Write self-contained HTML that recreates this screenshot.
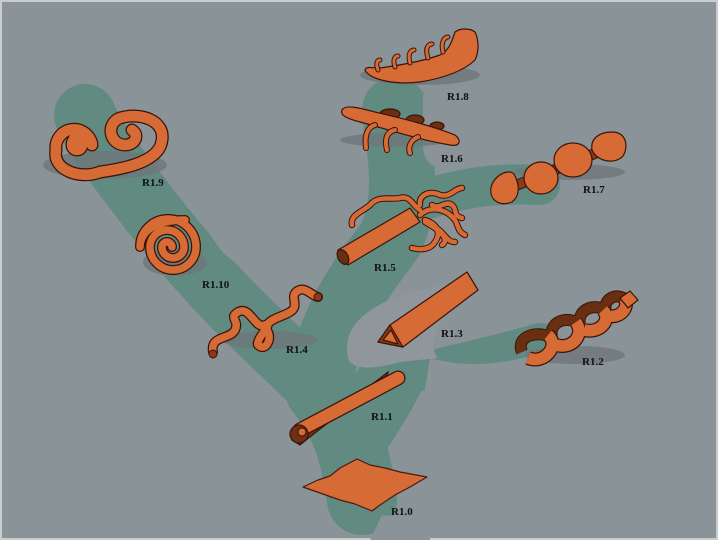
<!DOCTYPE html>
<html><head><style>
html,body{margin:0;padding:0;background:#8a9398;}
svg{display:block}
text{font-family:"Liberation Serif",serif;font-weight:bold;font-size:11px;fill:#111}
</style></head><body>
<svg width="718" height="540" viewBox="0 0 718 540" xmlns="http://www.w3.org/2000/svg">
<rect x="0" y="0" width="718" height="540" fill="#c9cdd0"/>
<rect x="2" y="2" width="714" height="536" fill="#8a9398"/>
<!-- green tree -->
<g fill="none" stroke="#618a80" stroke-linecap="round" stroke-linejoin="round">
  <path d="M362,500 C355,450 345,420 320,390" stroke-width="70"/>
  <path d="M320,390 C270,340 220,300 150,210 C120,170 95,140 85,115" stroke-width="62"/>
  <path d="M320,380 C330,320 360,280 390,240 C410,200 400,150 395,110" stroke-width="66"/>
  <path d="M410,205 C450,190 490,182 540,185" stroke-width="40"/>
  <path d="M370,385 C420,370 480,360 540,342" stroke-width="38"/>
  <path d="M360,430 C380,400 390,380 400,360" stroke-width="66"/>
</g>
<!-- gray holes -->
<path d="M245,265 C290,270 330,230 352,180 L355,95 L220,95 L195,200 C210,240 225,262 245,265Z" fill="#8a9398"/>
<path d="M462,162 C440,175 425,165 423,150 L423,95 L470,95Z" fill="#8a9398"/>
<path d="M348,358 C340,320 380,300 420,290 L470,280 L450,310 C432,330 430,350 438,358 L400,362 C372,370 352,370 348,358Z" fill="#8f979c"/>
<path d="M430,358 C480,372 520,358 560,350 L560,400 L420,420Z" fill="#8a9398"/>
<path d="M382,515 C400,520 410,500 415,470 L430,440 L430,540 L370,540Z" fill="#8a9398"/>

<!-- shadows -->
<g fill="#6e777b" opacity="0.8">
<ellipse cx="420" cy="75" rx="60" ry="10"/>
<ellipse cx="395" cy="140" rx="55" ry="7"/>
<ellipse cx="570" cy="172" rx="55" ry="8"/>
<ellipse cx="105" cy="165" rx="62" ry="14"/>
<ellipse cx="175" cy="262" rx="32" ry="14"/>
<ellipse cx="270" cy="340" rx="48" ry="9"/>
<ellipse cx="575" cy="355" rx="50" ry="9"/>
</g>

<!-- R1.0 -->
<path d="M303,487 L318,480 L330,476 L340,468 L357,459 L370,465 L385,468 L400,472 L427,477 L410,487 L395,495 L380,505 L372,511 L355,504 L340,500 L320,493Z" fill="#d76b35" stroke="#4a1a10" stroke-width="1.2" stroke-linejoin="round"/>

<!-- R1.1 -->
<path d="M292,440 C330,410 360,395 388,372 L385,383 C360,400 330,420 300,445Z" fill="#6e2f12" stroke="#3a140a" stroke-width="1.2"/>
<path d="M300,430 L398,378" stroke="#3a140a" stroke-width="15" stroke-linecap="round"/>
<path d="M300,430 L398,378" stroke="#d76b35" stroke-width="12.5" stroke-linecap="round"/>
<circle cx="299" cy="434" r="9" fill="#6e2f12" stroke="#3a140a" stroke-width="1.2"/>
<circle cx="302" cy="432" r="4" fill="#d76b35" stroke="#3a140a" stroke-width="1"/>

<!-- R1.2 helix -->
<g fill="none" stroke-linecap="butt">
 <g stroke="#3a140a" stroke-width="12">
  <path d="M522,352 C515,335 540,330 552,338"/>
  <path d="M552,338 C548,320 570,315 580,325"/>
  <path d="M580,325 C576,308 598,302 606,312"/>
  <path d="M606,312 C602,298 618,292 626,300"/>
 </g>
 <g stroke="#6a2e10" stroke-width="10">
  <path d="M522,352 C515,335 540,330 552,338"/>
  <path d="M552,338 C548,320 570,315 580,325"/>
  <path d="M580,325 C576,308 598,302 606,312"/>
  <path d="M606,312 C602,298 618,292 626,300"/>
 </g>
 <g stroke="#3a140a" stroke-width="14">
  <path d="M528,358 C545,365 560,345 548,335"/>
  <path d="M556,345 C572,350 585,335 576,322"/>
  <path d="M584,330 C600,334 612,320 603,310"/>
  <path d="M610,316 C622,318 630,305 624,298"/>
 </g>
 <g stroke="#d76b35" stroke-width="11.5">
  <path d="M528,358 C545,365 560,345 548,335"/>
  <path d="M556,345 C572,350 585,335 576,322"/>
  <path d="M584,330 C600,334 612,320 603,310"/>
  <path d="M610,316 C622,318 630,305 624,298"/>
 </g>
</g>
<path d="M620,298 L630,291 L638,300 L628,308Z" fill="#d76b35" stroke="#3a140a" stroke-width="1.2"/>

<!-- R1.3 -->
<g stroke="#3a140a" stroke-width="1.2" stroke-linejoin="round">
<path d="M378,342 L390,325 L467,272 L478,290 L403,347Z" fill="#d76b35"/>
<path d="M378,342 L390,325 L403,347Z" fill="#8a3a18"/>
<path d="M383,340 L391,330 L398,344Z" fill="#d76b35"/>
</g>

<!-- R1.4 -->
<g fill="none" stroke-linecap="round" stroke-linejoin="round">
<path d="M213,352 C210,335 230,340 235,330 C240,320 228,318 238,312 C250,305 255,330 265,325 C275,320 255,340 258,345 C265,352 272,340 268,332 C262,320 280,318 290,312 C300,306 290,298 296,292 C305,285 310,295 318,297" stroke="#3a140a" stroke-width="10"/>
<path d="M213,352 C210,335 230,340 235,330 C240,320 228,318 238,312 C250,305 255,330 265,325 C275,320 255,340 258,345 C265,352 272,340 268,332 C262,320 280,318 290,312 C300,306 290,298 296,292 C305,285 310,295 318,297" stroke="#d76b35" stroke-width="7.5"/>
</g>
<circle cx="213" cy="354" r="4" fill="#8a3a18" stroke="#3a140a"/>
<circle cx="318" cy="297" r="4" fill="#8a3a18" stroke="#3a140a"/>

<!-- R1.5 tentacles -->
<g fill="none" stroke-linecap="round" stroke-linejoin="round">
<g stroke="#3a140a" stroke-width="6.5">
<path d="M352,225 C350,215 362,212 370,205 C378,195 390,200 400,198 C410,195 412,205 420,210"/>
<path d="M420,205 C418,195 430,190 440,195 C450,198 455,188 462,188"/>
<path d="M420,215 C430,205 445,210 450,215 C460,222 455,230 465,235"/>
<path d="M425,220 C440,225 440,235 435,242 C430,250 420,250 412,248"/>
<path d="M425,222 C440,230 450,240 442,245"/>
<path d="M430,225 C445,230 445,242 455,242"/>
<path d="M432,205 C440,210 445,200 452,205 C458,210 452,215 462,218"/>
</g>
<g stroke="#d76b35" stroke-width="4.5">
<path d="M352,225 C350,215 362,212 370,205 C378,195 390,200 400,198 C410,195 412,205 420,210"/>
<path d="M420,205 C418,195 430,190 440,195 C450,198 455,188 462,188"/>
<path d="M420,215 C430,205 445,210 450,215 C460,222 455,230 465,235"/>
<path d="M425,220 C440,225 440,235 435,242 C430,250 420,250 412,248"/>
<path d="M425,222 C440,230 450,240 442,245"/>
<path d="M430,225 C445,230 445,242 455,242"/>
<path d="M432,205 C440,210 445,200 452,205 C458,210 452,215 462,218"/>
</g>
</g>
<g stroke="#3a140a" stroke-width="1.2" stroke-linejoin="round">
<path d="M338,250 L410,208 L420,222 L348,265Z" fill="#d76b35"/>
<ellipse cx="343" cy="257" rx="5" ry="8" transform="rotate(-30 343 257)" fill="#6a2e10"/>
</g>

<!-- R1.6 -->
<g stroke="#3a140a" stroke-width="1.2" stroke-linejoin="round">
<ellipse cx="390" cy="114" rx="10" ry="5" fill="#6a2e10"/>
<ellipse cx="415" cy="120" rx="9" ry="5" fill="#6a2e10"/>
<ellipse cx="437" cy="126" rx="7" ry="4" fill="#6a2e10"/>
<path d="M342,110 C345,104 360,108 375,112 C400,118 430,125 455,135 C462,140 460,147 450,145 C420,140 390,130 360,122 C345,118 340,115 342,110Z" fill="#d76b35"/>
</g>
<g fill="none" stroke-linecap="round">
<g stroke="#3a140a" stroke-width="6"><path d="M375,125 C365,128 365,140 366,148"/><path d="M395,130 C385,132 385,142 387,150"/><path d="M418,137 C410,140 408,148 410,153"/></g>
<g stroke="#d76b35" stroke-width="4"><path d="M375,125 C365,128 365,140 366,148"/><path d="M395,130 C385,132 385,142 387,150"/><path d="M418,137 C410,140 408,148 410,153"/></g>
</g>

<!-- R1.7 -->
<path d="M505,190 L608,148" stroke="#3a140a" stroke-width="11"/>
<path d="M505,190 L608,148" stroke="#8a3a18" stroke-width="9"/>
<g stroke="#3a140a" stroke-width="1.2" stroke-linejoin="round" fill="#d76b35">
<path d="M491,188 C493,176 508,168 514,174 C520,185 520,196 512,202 C500,207 489,200 491,188Z"/>
<ellipse cx="541" cy="178" rx="17" ry="16"/>
<ellipse cx="573" cy="160" rx="19" ry="17"/>
<path d="M592,150 C590,138 600,132 612,132 C626,132 629,146 623,156 C616,164 598,163 592,150Z"/>
</g>

<!-- R1.8 -->
<g stroke="#3a140a" stroke-width="1.2" stroke-linejoin="round">
<path d="M365,70 C370,80 395,85 420,82 C445,78 465,70 475,60 C480,50 478,38 475,32 C470,28 460,28 455,32 C452,40 450,50 440,55 C420,62 400,65 380,68 C372,68 366,66 365,70Z" fill="#d76b35"/>
</g>
<g fill="none" stroke-linecap="round">
<g stroke="#3a140a" stroke-width="5"><path d="M378,70 C375,62 378,60 380,60"/><path d="M395,67 C392,58 396,56 398,56"/><path d="M410,63 C407,52 412,50 414,50"/><path d="M428,58 C424,46 430,44 432,44"/><path d="M443,52 C440,40 446,37 448,37"/></g>
<g stroke="#d76b35" stroke-width="3"><path d="M378,70 C375,62 378,60 380,60"/><path d="M395,67 C392,58 396,56 398,56"/><path d="M410,63 C407,52 412,50 414,50"/><path d="M428,58 C424,46 430,44 432,44"/><path d="M443,52 C440,40 446,37 448,37"/></g>
</g>

<!-- R1.9 -->
<g fill="none" stroke-linecap="round" stroke-linejoin="round">
<path d="M82,145 A5,5 0 0 1 72,145 A10,10 0 0 1 92,145 A18,18 0 0 0 56,150 C52,170 80,180 100,172 C130,168 160,160 162,140 C165,120 140,112 120,118 C105,124 110,145 125,145 C135,145 140,135 132,130" stroke="#3a140a" stroke-width="13"/>
<path d="M82,145 A5,5 0 0 1 72,145 A10,10 0 0 1 92,145 A18,18 0 0 0 56,150 C52,170 80,180 100,172 C130,168 160,160 162,140 C165,120 140,112 120,118 C105,124 110,145 125,145 C135,145 140,135 132,130" stroke="#d76b35" stroke-width="10.5"/>
</g>

<!-- R1.10 -->
<g fill="none" stroke-linecap="round" stroke-linejoin="round">
<path d="M172,247 A5,5 0 0 0 162,247 A11,11 0 0 0 184,247 A17,17 0 0 0 150,247 A23,23 0 0 0 196,247 A28,28 0 0 0 140,247 C140,232 155,220 185,220" stroke="#3a140a" stroke-width="10"/>
<path d="M172,247 A5,5 0 0 0 162,247 A11,11 0 0 0 184,247 A17,17 0 0 0 150,247 A23,23 0 0 0 196,247 A28,28 0 0 0 140,247 C140,232 155,220 185,220" stroke="#d76b35" stroke-width="7.5"/>
</g>

<!-- labels -->
<text x="447" y="100">R1.8</text>
<text x="441" y="162">R1.6</text>
<text x="583" y="193">R1.7</text>
<text x="142" y="186">R1.9</text>
<text x="374" y="271">R1.5</text>
<text x="202" y="288">R1.10</text>
<text x="441" y="337">R1.3</text>
<text x="286" y="353">R1.4</text>
<text x="582" y="365">R1.2</text>
<text x="371" y="420">R1.1</text>
<text x="391" y="515">R1.0</text>
</svg>
</body></html>
